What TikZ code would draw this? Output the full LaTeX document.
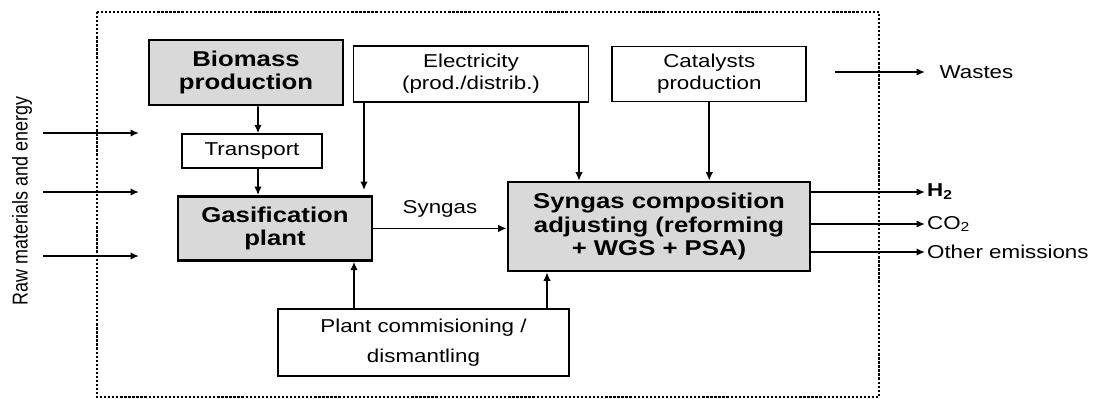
\documentclass[tikz,border=0pt]{standalone}
\usepackage{fontspec}
\setmainfont{Liberation Sans}[FakeStretch=1.2]
\newfontfamily\rawfont{Liberation Sans}
\usetikzlibrary{arrows.meta, positioning, calc}
\definecolor{boxgray}{RGB}{217,217,217}

\begin{document}
\begin{tikzpicture}[
    mainbox/.style={rectangle, draw, line width=1.5pt, fill=boxgray, align=center, inner sep=0pt, font=\fontsize{12.2}{13.4}\selectfont\bfseries},
    subbox/.style={rectangle, draw, line width=1pt, fill=white, align=center, inner sep=0pt, font=\fontsize{10.6}{12.6}\selectfont},
    txt/.style={inner sep=1pt, font=\fontsize{10.6}{12.6}\selectfont},
    arrow/.style={-{Latex[length=1.7mm,width=1.5mm]}, line width=0.9pt}
]
    \useasboundingbox (0,0) rectangle (21.94,-7.96);

    % System boundary
    \draw[line width=1.3pt, densely dotted] (1.94,-0.24) rectangle (17.58,-7.94);

    % Gasification chain
    \node[mainbox, minimum width=3.88cm, minimum height=1.3cm] (biomass) at (4.92,-1.45) {Biomass\\production};
    \node[subbox, minimum width=2.8cm, minimum height=0.68cm, below=0.54cm of biomass, xshift=0.12cm] (transport) {Transport};
    \node[mainbox, minimum width=3.88cm, minimum height=1.28cm, below=0.52cm of transport, xshift=0.46cm] (gasif) {Gasification\\plant};

    % Supply boxes
    \node[subbox, minimum width=4.7cm, minimum height=1.12cm] (elec) at (9.42,-1.48) {Electricity\\(prod./distrib.)};
    \node[subbox, minimum width=3.88cm, minimum height=1.1cm, right=0.44cm of elec] (catal) {Catalysts\\production};

    % Syngas conditioning
    \node[mainbox, minimum width=6.04cm, minimum height=1.78cm] (syn) at (13.18,-4.53) {Syngas composition\\adjusting (reforming\\+ WGS + PSA)};

    % Plant construction
    \node[subbox, minimum width=5.82cm, minimum height=1.34cm, font=\fontsize{10.6}{17}\selectfont] (plant) at (8.47,-6.85) {Plant commisioning /\\dismantling};

    % Inputs
    \node[rotate=90] (rawlbl) at (0.44,-4.02) {\scalebox{1}[1.2]{\rawfont\fontsize{10.2}{12}\selectfont Raw materials and energy}};
    \foreach \i/\y in {1/-2.66, 2/-3.84, 3/-5.12} {
        \coordinate (rawin\i) at (0.86,\y);
        \coordinate (rawout\i) at (2.78,\y);
        \draw[arrow] (rawin\i) -- (rawout\i);
    }

    % Internal flows
    \draw[arrow] ([xshift=0.24cm]biomass.south) -- ([xshift=0.12cm]transport.north);
    \draw[arrow] ([xshift=0.12cm]transport.south) -- ([xshift=-0.34cm]gasif.north);

    \coordinate (elecL) at ([xshift=-2.14cm]elec.south);
    \coordinate (elecR) at ([xshift=2.16cm]elec.south);
    \draw[arrow, shorten >=0.1cm] (elecL) -- (elecL |- gasif.north);
    \draw[arrow] (elecR) -- (elecR |- syn.north);
    \draw[arrow] (catal.south) -- (catal.south |- syn.north);

    \draw[arrow] (gasif.east) -- (gasif.east -| syn.west) node[midway, above=0.16cm, txt] (synlbl) {Syngas};

    \coordinate (plantL) at ([xshift=-1.39cm]plant.north);
    \coordinate (plantR) at ([xshift=2.47cm]plant.north);
    \draw[arrow] (plantL) -- (plantL |- gasif.south);
    \draw[arrow] (plantR) -- (plantR |- syn.south);

    % Outputs
    \coordinate (outx) at (18.5,0);
    \coordinate (wastein) at (16.7,-1.44);
    \node[txt, anchor=west] (wastes) at (18.75,-1.44) {Wastes};
    \draw[arrow] (wastein) -- (wastein -| outx);
    \foreach \nm/\dy/\txt in {h2/0.69/{\bfseries H\textsubscript{2}}, co2/0.05/{CO\textsubscript{2}}, oth/-0.51/{Other emissions}} {
        \coordinate (\nm in) at ([yshift=\dy cm]syn.east);
        \node[txt, anchor=west] (\nm) at (\nm in -| outx) {\txt};
        \draw[arrow] (\nm in) -- (\nm.west);
    }
\end{tikzpicture}
\end{document}
